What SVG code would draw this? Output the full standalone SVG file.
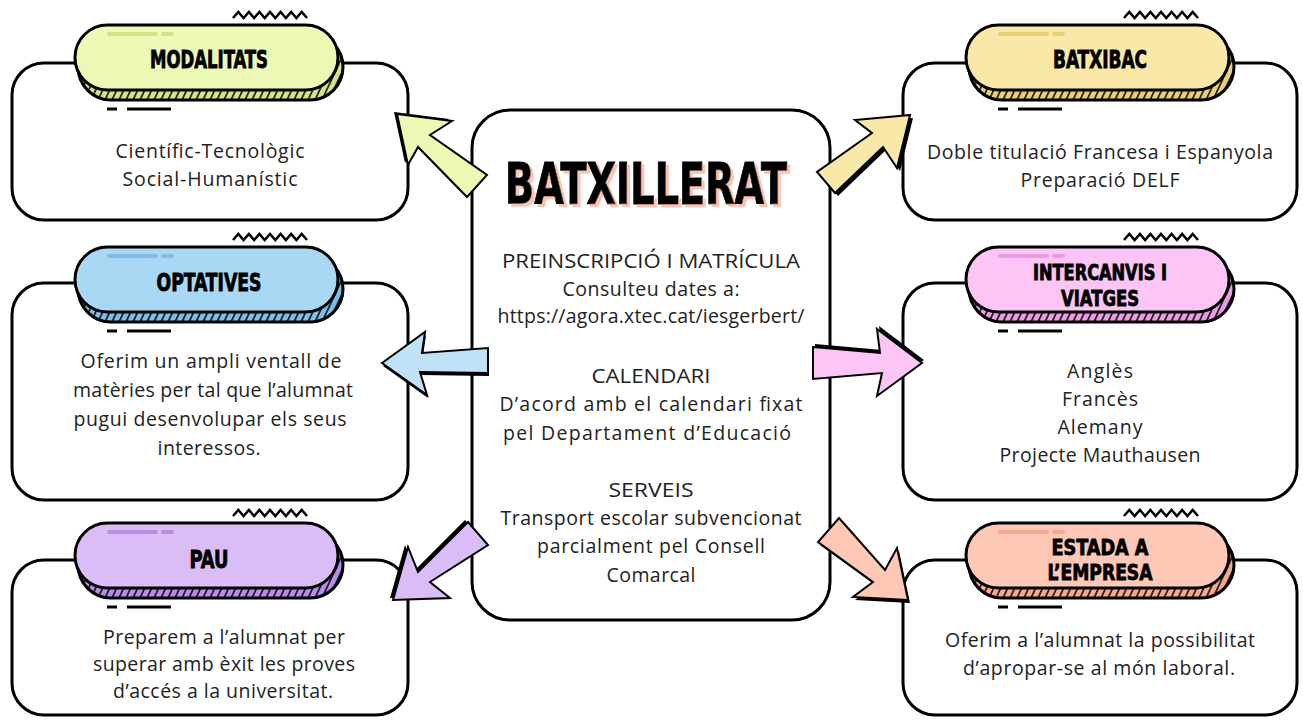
<svg xmlns="http://www.w3.org/2000/svg" width="1303" height="720" viewBox="0 0 1303 720">
<defs>
<pattern id="hatch" width="7" height="12" patternUnits="userSpaceOnUse" patternTransform="skewX(-25)">
<line x1="2" y1="0" x2="2" y2="12" stroke="#000" stroke-width="1.6"/>
</pattern>
<filter id="ts" x="-5%" y="-20%" width="115%" height="150%">
<feDropShadow dx="3" dy="3" stdDeviation="0" flood-color="#f9c4b4" flood-opacity="1"/>
</filter>
<style>
.box{fill:#fff;stroke:#000;stroke-width:3}
.pm{stroke:#000;stroke-width:3}
.pb{stroke:#000;stroke-width:3}
.hat{fill:url(#hatch);stroke:none}
.zz{fill:none;stroke:#000;stroke-width:2.5;stroke-linejoin:miter}
.hl{stroke-width:4;stroke-linecap:round}
.dash{stroke:#000;stroke-width:3}
.pt{font-family:"DejaVu Sans Condensed","DejaVu Sans",sans-serif;font-weight:bold;font-size:24px;fill:#000;stroke:#000;stroke-width:0.8;text-anchor:middle}
.pt2{font-size:21px}
.bt{font-family:"Open Sans","Noto Sans",sans-serif;font-size:19.5px;fill:#222;text-anchor:middle}
.title{font-family:"DejaVu Sans Condensed","DejaVu Sans",sans-serif;font-weight:bold;font-size:57px;text-anchor:middle}
.arr{stroke:#000;stroke-width:2;stroke-linejoin:miter}
</style>
</defs>
<rect width="1303" height="720" fill="#fff"/>

<g id="modalitats">
<rect class="box" x="12" y="63" width="396" height="157" rx="32"/>
<g transform="translate(75,25)">
<polyline class="zz" points="158,-7 163.3,-13 168.6,-7 173.9,-13 179.1,-7 184.4,-13 189.7,-7 195,-13 200.3,-7 205.6,-13 210.9,-7 216.1,-13 221.4,-7 226.7,-13 232,-7"/>
<rect class="pb" x="3" y="9" width="265" height="66" rx="33" fill="#d2e38a"/>
<rect class="hat" x="3" y="9" width="265" height="66" rx="33"/>
<rect class="pm" x="0" y="0" width="263" height="65" rx="32.5" fill="#ecf9b4"/>
<line class="hl" x1="34" y1="9" x2="81" y2="9" stroke="#d2e38a"/><line class="hl" x1="88" y1="9" x2="97" y2="9" stroke="#d2e38a"/>
<text class="pt" x="134" y="43" textLength="118" lengthAdjust="spacingAndGlyphs">MODALITATS</text>
<line class="dash" x1="32" y1="84" x2="42" y2="84"/><line class="dash" x1="52" y1="84" x2="96" y2="84"/>
</g>
<text class="bt" x="210" y="158" textLength="189" lengthAdjust="spacing">Científic-Tecnològic</text>
<text class="bt" x="210" y="186" textLength="175" lengthAdjust="spacing">Social-Humanístic</text>
</g>

<g id="optatives">
<rect class="box" x="12" y="283" width="396" height="217" rx="32"/>
<g transform="translate(75,247)">
<polyline class="zz" points="158,-7 163.3,-13 168.6,-7 173.9,-13 179.1,-7 184.4,-13 189.7,-7 195,-13 200.3,-7 205.6,-13 210.9,-7 216.1,-13 221.4,-7 226.7,-13 232,-7"/>
<rect class="pb" x="3" y="9" width="265" height="66" rx="33" fill="#7fbde6"/>
<rect class="hat" x="3" y="9" width="265" height="66" rx="33"/>
<rect class="pm" x="0" y="0" width="263" height="65" rx="32.5" fill="#a8d8f3"/>
<line class="hl" x1="34" y1="9" x2="81" y2="9" stroke="#7fbde6"/><line class="hl" x1="88" y1="9" x2="97" y2="9" stroke="#7fbde6"/>
<text class="pt" x="134" y="44" textLength="105" lengthAdjust="spacingAndGlyphs">OPTATIVES</text>
<line class="dash" x1="32" y1="84" x2="42" y2="84"/><line class="dash" x1="52" y1="84" x2="96" y2="84"/>
</g>
<text class="bt" x="211" y="368" textLength="261" lengthAdjust="spacing">Oferim un ampli ventall de</text>
<text class="bt" x="213" y="397" textLength="280" lengthAdjust="spacing">matèries per tal que l’alumnat</text>
<text class="bt" x="210" y="426" textLength="273" lengthAdjust="spacing">pugui desenvolupar els seus</text>
<text class="bt" x="209" y="455" textLength="103" lengthAdjust="spacing">interessos.</text>
</g>

<g id="pau">
<rect class="box" x="12" y="560" width="396" height="155" rx="32"/>
<g transform="translate(75,523)">
<polyline class="zz" points="158,-7 163.3,-13 168.6,-7 173.9,-13 179.1,-7 184.4,-13 189.7,-7 195,-13 200.3,-7 205.6,-13 210.9,-7 216.1,-13 221.4,-7 226.7,-13 232,-7"/>
<rect class="pb" x="3" y="9" width="265" height="66" rx="33" fill="#b98ce8"/>
<rect class="hat" x="3" y="9" width="265" height="66" rx="33"/>
<rect class="pm" x="0" y="0" width="263" height="65" rx="32.5" fill="#dabdf7"/>
<line class="hl" x1="34" y1="9" x2="81" y2="9" stroke="#b98ce8"/><line class="hl" x1="88" y1="9" x2="97" y2="9" stroke="#b98ce8"/>
<text class="pt" x="134" y="45" textLength="39" lengthAdjust="spacingAndGlyphs">PAU</text>
<line class="dash" x1="32" y1="84" x2="42" y2="84"/><line class="dash" x1="52" y1="84" x2="96" y2="84"/>
</g>
<text class="bt" x="224" y="644" textLength="242" lengthAdjust="spacing">Preparem a l’alumnat per</text>
<text class="bt" x="224" y="671" textLength="262" lengthAdjust="spacing">superar amb èxit les proves</text>
<text class="bt" x="223" y="698" textLength="220" lengthAdjust="spacing">d’accés a la universitat.</text>
</g>

<g id="batxibac">
<rect class="box" x="903" y="63" width="394" height="157" rx="32"/>
<g transform="translate(966,25)">
<polyline class="zz" points="158,-7 163.3,-13 168.6,-7 173.9,-13 179.1,-7 184.4,-13 189.7,-7 195,-13 200.3,-7 205.6,-13 210.9,-7 216.1,-13 221.4,-7 226.7,-13 232,-7"/>
<rect class="pb" x="3" y="9" width="265" height="66" rx="33" fill="#e8cf7a"/>
<rect class="hat" x="3" y="9" width="265" height="66" rx="33"/>
<rect class="pm" x="0" y="0" width="263" height="65" rx="32.5" fill="#fae8a8"/>
<line class="hl" x1="34" y1="9" x2="81" y2="9" stroke="#e8cf7a"/><line class="hl" x1="88" y1="9" x2="97" y2="9" stroke="#e8cf7a"/>
<text class="pt" x="134" y="43" textLength="94" lengthAdjust="spacingAndGlyphs">BATXIBAC</text>
<line class="dash" x1="32" y1="84" x2="42" y2="84"/><line class="dash" x1="52" y1="84" x2="96" y2="84"/>
</g>
<text class="bt" x="1100" y="159" textLength="346" lengthAdjust="spacing">Doble titulació Francesa i Espanyola</text>
<text class="bt" x="1100" y="187" textLength="159" lengthAdjust="spacing">Preparació DELF</text>
</g>

<g id="intercanvis">
<rect class="box" x="903" y="283" width="394" height="217" rx="32"/>
<g transform="translate(966,247)">
<polyline class="zz" points="158,-7 163.3,-13 168.6,-7 173.9,-13 179.1,-7 184.4,-13 189.7,-7 195,-13 200.3,-7 205.6,-13 210.9,-7 216.1,-13 221.4,-7 226.7,-13 232,-7"/>
<rect class="pb" x="3" y="9" width="265" height="66" rx="33" fill="#eb9be3"/>
<rect class="hat" x="3" y="9" width="265" height="66" rx="33"/>
<rect class="pm" x="0" y="0" width="263" height="65" rx="32.5" fill="#fcc5f5"/>
<line class="hl" x1="34" y1="9" x2="81" y2="9" stroke="#eb9be3"/><line class="hl" x1="88" y1="9" x2="97" y2="9" stroke="#eb9be3"/>
<text class="pt pt2" x="134" y="33" textLength="134" lengthAdjust="spacingAndGlyphs">INTERCANVIS I</text>
<text class="pt pt2" x="134" y="59" textLength="78" lengthAdjust="spacingAndGlyphs">VIATGES</text>
<line class="dash" x1="32" y1="84" x2="42" y2="84"/><line class="dash" x1="52" y1="84" x2="96" y2="84"/>
</g>
<text class="bt" x="1100" y="378" textLength="66" lengthAdjust="spacing">Anglès</text>
<text class="bt" x="1100" y="406" textLength="76" lengthAdjust="spacing">Francès</text>
<text class="bt" x="1100" y="434" textLength="85" lengthAdjust="spacing">Alemany</text>
<text class="bt" x="1100" y="462" textLength="201" lengthAdjust="spacing">Projecte Mauthausen</text>
</g>

<g id="estada">
<rect class="box" x="903" y="560" width="394" height="155" rx="32"/>
<g transform="translate(966,523)">
<polyline class="zz" points="158,-7 163.3,-13 168.6,-7 173.9,-13 179.1,-7 184.4,-13 189.7,-7 195,-13 200.3,-7 205.6,-13 210.9,-7 216.1,-13 221.4,-7 226.7,-13 232,-7"/>
<rect class="pb" x="3" y="9" width="265" height="66" rx="33" fill="#f5a88e"/>
<rect class="hat" x="3" y="9" width="265" height="66" rx="33"/>
<rect class="pm" x="0" y="0" width="263" height="65" rx="32.5" fill="#fdc9b6"/>
<line class="hl" x1="34" y1="9" x2="81" y2="9" stroke="#f5a88e"/><line class="hl" x1="88" y1="9" x2="97" y2="9" stroke="#f5a88e"/>
<text class="pt pt2" x="134" y="32" textLength="97" lengthAdjust="spacingAndGlyphs">ESTADA A</text>
<text class="pt pt2" x="134" y="57" textLength="105" lengthAdjust="spacingAndGlyphs">L’EMPRESA</text>
<line class="dash" x1="32" y1="84" x2="42" y2="84"/><line class="dash" x1="52" y1="84" x2="96" y2="84"/>
</g>
<text class="bt" x="1100" y="647" textLength="310" lengthAdjust="spacing">Oferim a l’alumnat la possibilitat</text>
<text class="bt" x="1099" y="675" textLength="272" lengthAdjust="spacing">d’apropar-se al món laboral.</text>
</g>

<g id="batxillerat">
<rect class="box" x="472" y="110" width="358" height="510" rx="38"/>
<text class="title" x="646" y="204" fill="#000" stroke="#000" stroke-width="1" textLength="282" lengthAdjust="spacingAndGlyphs" filter="url(#ts)">BATXILLERAT</text>
<text class="bt" x="651" y="268" textLength="298" lengthAdjust="spacingAndGlyphs">PREINSCRIPCIÓ I MATRÍCULA</text>
<text class="bt" x="651" y="296" textLength="177" lengthAdjust="spacing">Consulteu dates a:</text>
<text class="bt" x="651" y="323" textLength="307" lengthAdjust="spacing">https://agora.xtec.cat/iesgerbert/</text>
<text class="bt" x="651" y="383" textLength="119" lengthAdjust="spacingAndGlyphs">CALENDARI</text>
<text class="bt" x="651" y="411" textLength="303" lengthAdjust="spacing">D’acord amb el calendari fixat</text>
<text class="bt" x="647" y="440" textLength="288" lengthAdjust="spacing">pel Departament d’Educació</text>
<text class="bt" x="651" y="497" textLength="85" lengthAdjust="spacingAndGlyphs">SERVEIS</text>
<text class="bt" x="651" y="525" textLength="301" lengthAdjust="spacing">Transport escolar subvencionat</text>
<text class="bt" x="651" y="553" textLength="228" lengthAdjust="spacing">parcialment pel Consell</text>
<text class="bt" x="651" y="582" textLength="89" lengthAdjust="spacing">Comarcal</text>
</g>

<g id="connectors">
<polygon points="397,114 452,121 430,135 487,175 467,197 418,147 408,165" fill="#000" transform="translate(-3,-2)"/>
<polygon class="arr" points="397,114 452,121 430,135 487,175 467,197 418,147 408,165" fill="#ecf9b4"/>
<polygon points="910,115 855,120 872,133 817,172 835,193 883,147 897,168" fill="#000" transform="translate(3,3)"/>
<polygon class="arr" points="910,115 855,120 872,133 817,172 835,193 883,147 897,168" fill="#fae8a8"/>
<polygon points="382,363 425,332 422,353 488,348 488,373 420,372 427,395" fill="#000" transform="translate(1,3)"/>
<polygon class="arr" points="382,363 425,332 422,353 488,348 488,373 420,372 427,395" fill="#bfe2f7"/>
<polygon points="813,347 880,353 877,329 922,363 877,396 882,373 813,379" fill="#000" transform="translate(2,-3)"/>
<polygon class="arr" points="813,347 880,353 877,329 922,363 877,396 882,373 813,379" fill="#fcc5f5"/>
<polygon points="393,600 408,547 418,572 468,522 488,545 430,582 450,598" fill="#000" transform="translate(-3,-2)"/>
<polygon class="arr" points="393,600 408,547 418,572 468,522 488,545 430,582 450,598" fill="#dabdf7"/>
<polygon points="839,518 885,570 897,548 908,600 853,597 873,582 818,542" fill="#000" transform="translate(2,3)"/>
<polygon class="arr" points="839,518 885,570 897,548 908,600 853,597 873,582 818,542" fill="#fdc9b6"/>
</g>
</svg>
